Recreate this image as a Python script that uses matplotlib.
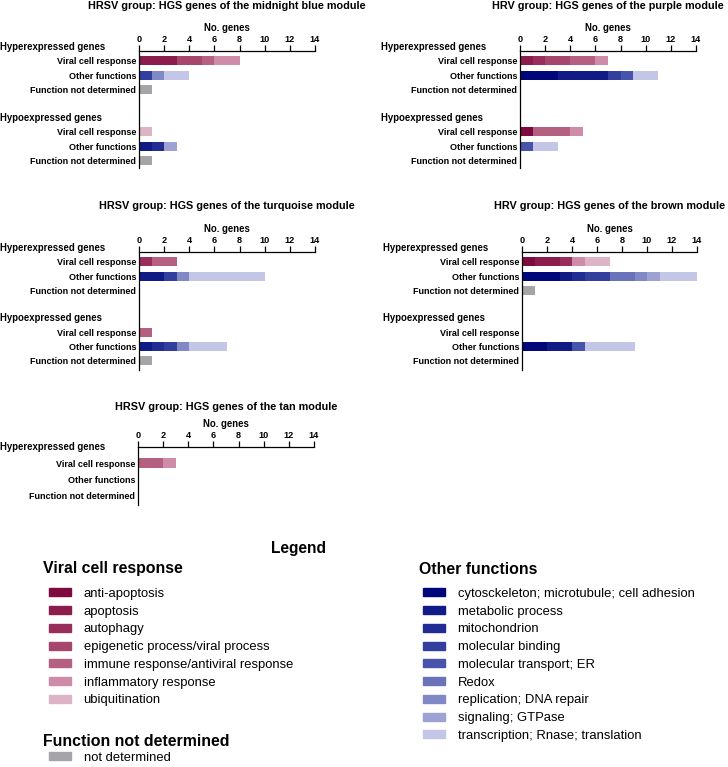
import numpy as np
import matplotlib.pyplot as plt
import matplotlib.transforms as mtransforms
from matplotlib.patches import Patch

plt.rcParams['font.family'] = ['Liberation Sans', 'DejaVu Sans']

W, H = 728, 767

# categories
viral_labels = ['anti-apoptosis', 'apoptosis', 'autophagy', 'epigenetic process/viral process',
                'immune response/antiviral response', 'inflammatory response', 'ubiquitination']
other_labels = ['cytosckeleton; microtubule; cell adhesion', 'metabolic process', 'mitochondrion',
                'molecular binding', 'molecular transport; ER', 'Redox', 'replication; DNA repair',
                'signaling; GTPase', 'transcription; Rnase; translation']
nd_label = 'not determined'

viral_colors = ['#7f0a3d', '#8b1c4c', '#982e5b', '#a6466d', '#b55f81', '#cf8ca9', '#ddb3c6']
other_colors = ['#00077a', '#111b86', '#212d93', '#333f9f', '#4853ac', '#6a72b9', '#8088c5',
                '#9da2d3', '#c3c6e6']
nd_color = '#a4a4a9'

row_labels = ['Viral cell response', 'Other functions', 'Function not determined']

# counts per row (viral 7 categories, other 9 categories, not determined)
mb_hyper_viral = [0, 3, 0, 2, 1, 2, 0]
mb_hyper_other = [0, 0, 0, 1, 0, 0, 1, 0, 2]
mb_hyper_nd = 1
mb_hypo_viral = [0, 0, 0, 0, 0, 0, 1]
mb_hypo_other = [0, 1, 1, 0, 0, 0, 0, 1, 0]
mb_hypo_nd = 1

pu_hyper_viral = [0, 1, 1, 2, 2, 1, 0]
pu_hyper_other = [3, 4, 0, 1, 1, 0, 0, 0, 2]
pu_hyper_nd = 0
pu_hypo_viral = [1, 0, 0, 0, 3, 1, 0]
pu_hypo_other = [0, 0, 0, 0, 1, 0, 0, 0, 2]
pu_hypo_nd = 0

tq_hyper_viral = [0, 0, 1, 0, 2, 0, 0]
tq_hyper_other = [0, 2, 0, 1, 0, 0, 1, 0, 6]
tq_hyper_nd = 0
tq_hypo_viral = [0, 0, 0, 0, 1, 0, 0]
tq_hypo_other = [0, 1, 1, 1, 0, 0, 1, 0, 3]
tq_hypo_nd = 1

br_hyper_viral = [1, 2, 1, 0, 0, 1, 2]
br_hyper_other = [3, 1, 1, 2, 0, 2, 1, 1, 3]
br_hyper_nd = 1
br_hypo_viral = [0, 0, 0, 0, 0, 0, 0]
br_hypo_other = [2, 2, 0, 0, 1, 0, 0, 0, 4]
br_hypo_nd = 0

tan_hyper_viral = [0, 0, 0, 0, 2, 1, 0]
tan_hyper_other = [0, 0, 0, 0, 0, 0, 0, 0, 0]
tan_hyper_nd = 0

fig = plt.figure(figsize=(W / 100, H / 100), dpi=100)


def rect(l, t, r, b):
    return [l / W, 1 - b / H, (r - l) / W, (b - t) / H]


def stack(ax, y, counts, colors, bh):
    left = 0
    for c, col in zip(counts, colors):
        if c > 0:
            ax.barh(y, c, left=left, height=bh, color=col, linewidth=0)
            left += c


def panel(box, title, title_y, header_x, hyper, hypo, ylim, bh):
    ax = fig.add_axes(rect(*box))
    rows = [(0, hyper)]
    if hypo is not None:
        rows.append((5, hypo))
    yt, yl = [], []
    for base, (vir, oth, nd) in rows:
        stack(ax, base, vir, viral_colors, bh)
        stack(ax, base + 1, oth, other_colors, bh)
        stack(ax, base + 2, [nd], [nd_color], bh)
        yt += [base, base + 1, base + 2]
        yl += row_labels
    ax.set_xlim(0, 14)
    ax.set_ylim(*ylim)
    ax.set_xticks(np.arange(0, 15, 2))
    ax.set_yticks(yt)
    ax.set_yticklabels(yl, fontsize=6.5, fontweight='bold')
    ax.xaxis.tick_top()
    ax.xaxis.set_label_position('top')
    ax.set_xlabel('No. genes', fontsize=6.9, fontweight='bold', labelpad=3)
    ax.tick_params(axis='x', length=4, width=0.9, pad=1, labelsize=6.6)
    for t in ax.get_xticklabels():
        t.set_fontweight('bold')
    ax.tick_params(axis='y', length=0, pad=2)
    for s in ['right', 'bottom']:
        ax.spines[s].set_visible(False)
    for s in ['left', 'top']:
        ax.spines[s].set_linewidth(0.9)
    trans = mtransforms.blended_transform_factory(fig.transFigure, ax.transData)
    ax.text(header_x / W, -1, 'Hyperexpressed genes', transform=trans, fontsize=6.9,
            fontweight='bold', ha='left', va='center')
    if hypo is not None:
        ax.text(header_x / W, 4, 'Hypoexpressed genes', transform=trans, fontsize=6.9,
                fontweight='bold', ha='left', va='center')
    fig.text((box[0] + box[2]) / 2 / W, 1 - title_y / H, title, fontsize=7.8,
             fontweight='bold', ha='center', va='center')
    return ax


panel((139, 51, 315, 168), 'HRSV group: HGS genes of the midnight blue module', 6, 0,
      (mb_hyper_viral, mb_hyper_other, mb_hyper_nd), (mb_hypo_viral, mb_hypo_other, mb_hypo_nd),
      (7.54, -0.70), 0.63)
panel((520, 51, 696, 168), 'HRV group: HGS genes of the purple module', 6, 381,
      (pu_hyper_viral, pu_hyper_other, pu_hyper_nd), (pu_hypo_viral, pu_hypo_other, pu_hypo_nd),
      (7.54, -0.70), 0.63)
panel((139, 252, 315, 370), 'HRSV group: HGS genes of the turquoise module', 206, 0,
      (tq_hyper_viral, tq_hyper_other, tq_hyper_nd), (tq_hypo_viral, tq_hypo_other, tq_hypo_nd),
      (7.64, -0.70), 0.63)
panel((522, 252, 697, 370), 'HRV group: HGS genes of the brown module', 206, 383,
      (br_hyper_viral, br_hyper_other, br_hyper_nd), (br_hypo_viral, br_hypo_other, br_hypo_nd),
      (7.64, -0.70), 0.63)
panel((138, 447, 314, 505), 'HRSV group: HGS genes of the tan module', 407, 0,
      (tan_hyper_viral, tan_hyper_other, tan_hyper_nd), None,
      (2.6, -1.0), 0.62)

# legend
fig.text(299 / W, 1 - 549 / H, 'Legend', fontsize=11.2, fontweight='bold', ha='center', va='center')
fig.text(43 / W, 1 - 569 / H, 'Viral cell response', fontsize=11.4, fontweight='bold',
         ha='left', va='center')
fig.text(43 / W, 1 - 741 / H, 'Function not determined', fontsize=11.4, fontweight='bold',
         ha='left', va='center')
fig.text(419 / W, 1 - 569 / H, 'Other functions', fontsize=11.4, fontweight='bold',
         ha='left', va='center')

leg_kw = dict(loc='upper left', frameon=False, fontsize=9.4, handlelength=1.7,
              handleheight=0.55, handletextpad=0.95, labelspacing=0.44,
              borderpad=0, borderaxespad=0)

fig.legend([Patch(color=c) for c in viral_colors], viral_labels,
           bbox_to_anchor=(49 / W, 1 - 588 / H), **leg_kw)
fig.legend([Patch(color=c) for c in other_colors], other_labels,
           bbox_to_anchor=(423 / W, 1 - 588 / H), **leg_kw)
fig.legend([Patch(color=nd_color)], [nd_label],
           bbox_to_anchor=(49 / W, 1 - 752 / H), **leg_kw)

fig.savefig('out.png', dpi=100)
